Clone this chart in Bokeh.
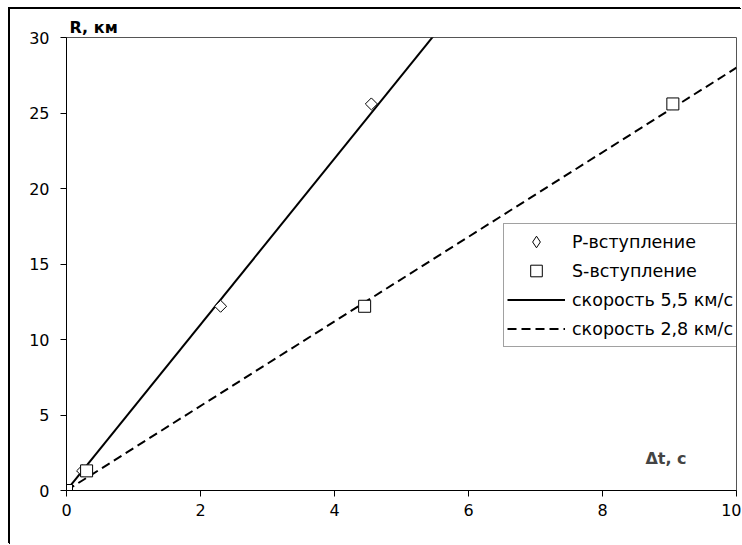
from bokeh.plotting import figure
from bokeh.models import (Range1d, Legend, LegendItem, Label, FixedTicker,
                          InlineStyleSheet, Title)
from bokeh.embed import file_html
from bokeh.resources import INLINE

# Data
p_dt = [0.0, 0.24, 2.3, 4.55]
p_r = [0.0, 1.3, 12.2, 25.6]
s_dt = [0.0, 0.3, 4.45, 9.05]
s_r = [0.0, 1.3, 12.2, 25.6]
# velocity lines endpoints
p_line_dt = [0.0, 5.55]
p_line_r = [0.0, 30.5]
s_line_dt = [0.0, 10.0]
s_line_r = [0.0, 28.0]
x_ticks = [0, 2, 4, 6, 8, 10]
y_ticks = [0, 5, 10, 15, 20, 25, 30]

FONT = "DejaVu Sans"

css = InlineStyleSheet(css=""":host {
  margin-left: 9px !important;
  margin-top: 8px !important;
  border-left: 1px solid #000000 !important;
  border-top: 1px solid #000000 !important;
  box-shadow: -1px -1px 0 0 #000000;
}""")

p = figure(width=732, height=536, output_backend="svg", toolbar_location=None,
           x_range=Range1d(0, 10), y_range=Range1d(0, 30),
           min_border_left=56, min_border_right=6, min_border_top=28, min_border_bottom=55,
           background_fill_color="white", border_fill_color="white",
           stylesheets=[css])
p.grid.visible = False
p.outline_line_color = "#555555"
p.outline_line_width = 1

p.title = Title(text="R, км", align="left", offset=3, standoff=2,
                text_font=FONT, text_font_size="16px", text_font_style="bold",
                text_color="black")

for ax in (p.xaxis[0], p.yaxis[0]):
    ax.axis_line_color = "black"
    ax.major_tick_line_color = "black"
    ax.minor_tick_line_color = None
    ax.major_tick_in = 0
    ax.major_tick_out = 6
    ax.major_label_text_font = FONT
    ax.major_label_text_font_size = "16px"
    ax.major_label_text_color = "black"
p.xaxis[0].ticker = FixedTicker(ticks=x_ticks)
p.yaxis[0].ticker = FixedTicker(ticks=y_ticks)
p.xaxis[0].major_label_standoff = 7
p.yaxis[0].major_label_standoff = 11

r_pl = p.line(p_line_dt, p_line_r, line_color="black", line_width=2)
r_sl = p.line(s_line_dt, s_line_r, line_color="black", line_width=2, line_dash="9 5")
# legend-only diamond (hidden), plotted diamonds are rotated squares
r_pleg = p.scatter(p_dt, p_r, marker="diamond", size=12, visible=False,
                   fill_color="white", line_color="black", line_width=1)
r_p = p.scatter(p_dt, p_r, marker="square", angle=0.785398, size=8.5,
                fill_color="white", line_color="black", line_width=1)
r_s = p.scatter(s_dt, s_r, marker="square", size=12,
                fill_color="white", line_color="black", line_width=1)

legend = Legend(items=[
    LegendItem(label="P-вступление", renderers=[r_pleg]),
    LegendItem(label="S-вступление", renderers=[r_s]),
    LegendItem(label="скорость 5,5 км/с", renderers=[r_pl]),
    LegendItem(label="скорость 2,8 км/с", renderers=[r_sl]),
], location=(437, 143))
legend.label_text_font = FONT
legend.label_text_font_size = "17.5px"
legend.label_text_color = "black"
legend.glyph_width = 58
legend.glyph_height = 29
legend.label_height = 20
legend.label_standoff = 7
legend.spacing = 0
legend.padding = 3
legend.margin = 0
legend.border_line_color = "#444444"
legend.border_line_width = 1
legend.background_fill_color = "white"
legend.background_fill_alpha = 1
legend.inactive_fill_alpha = 0
legend.click_policy = "none"
p.add_layout(legend, "center")

p.add_layout(Label(x=8.64, y=2.1, text="Δt, с", text_font=FONT,
                   text_font_size="16px", text_font_style="bold",
                   text_baseline="middle", text_align="left"))

open("out.html", "w").write(file_html(p, INLINE))
